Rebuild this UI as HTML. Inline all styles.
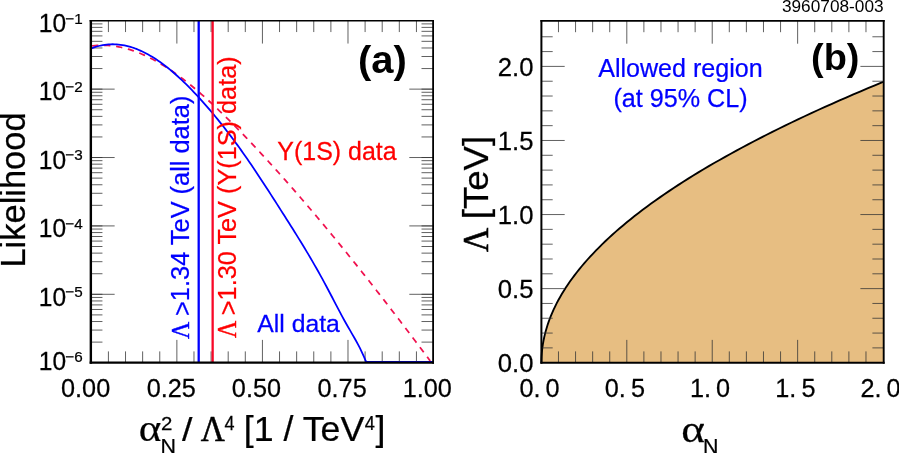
<!DOCTYPE html>
<html><head><meta charset="utf-8"><title>Likelihood and allowed region</title>
<style>
html,body{margin:0;padding:0;background:#fff;font-family:"Liberation Sans",sans-serif;}
body{width:899px;height:453px;overflow:hidden;}
svg{display:block;will-change:transform;}
</style></head><body>
<svg width="899" height="453" viewBox="0 0 899 453" font-family="Liberation Sans, sans-serif">
<path d="M541.40,362.70 L541.44,359.58 L541.57,356.46 L541.78,353.34 L542.07,350.22 L542.45,347.10 L542.92,343.98 L543.47,340.86 L544.10,337.74 L544.82,334.62 L545.62,331.51 L546.50,328.39 L547.47,325.27 L548.53,322.15 L549.67,319.03 L550.89,315.91 L552.20,312.79 L553.59,309.67 L555.07,306.55 L556.63,303.43 L558.27,300.31 L560.00,297.19 L561.81,294.07 L563.71,290.95 L565.70,287.83 L567.76,284.71 L569.91,281.59 L572.15,278.47 L574.47,275.36 L576.87,272.24 L579.36,269.12 L581.93,266.00 L584.59,262.88 L587.33,259.76 L590.16,256.64 L593.07,253.52 L596.06,250.40 L599.14,247.28 L602.31,244.16 L605.55,241.04 L608.89,237.92 L612.30,234.80 L615.80,231.68 L619.39,228.56 L623.06,225.44 L626.81,222.32 L630.65,219.20 L634.57,216.09 L638.58,212.97 L642.67,209.85 L646.85,206.73 L651.11,203.61 L655.45,200.49 L659.88,197.37 L664.39,194.25 L668.99,191.13 L673.67,188.01 L678.44,184.89 L683.29,181.77 L688.23,178.65 L693.24,175.53 L698.35,172.41 L703.54,169.29 L708.81,166.17 L714.17,163.05 L719.61,159.94 L725.13,156.82 L730.74,153.70 L736.44,150.58 L742.21,147.46 L748.08,144.34 L754.02,141.22 L760.06,138.10 L766.17,134.98 L772.37,131.86 L778.66,128.74 L785.03,125.62 L791.48,122.50 L798.02,119.38 L804.64,116.26 L811.35,113.14 L818.14,110.02 L825.01,106.90 L831.97,103.79 L839.02,100.67 L846.14,97.55 L853.36,94.43 L860.65,91.31 L868.03,88.19 L875.50,85.07 L883.05,81.95 L883.70,362.70 L541.40,362.70 Z" fill="#E7BE82"/>
<path d="M541.40,362.70 L541.44,359.58 L541.57,356.46 L541.78,353.34 L542.07,350.22 L542.45,347.10 L542.92,343.98 L543.47,340.86 L544.10,337.74 L544.82,334.62 L545.62,331.51 L546.50,328.39 L547.47,325.27 L548.53,322.15 L549.67,319.03 L550.89,315.91 L552.20,312.79 L553.59,309.67 L555.07,306.55 L556.63,303.43 L558.27,300.31 L560.00,297.19 L561.81,294.07 L563.71,290.95 L565.70,287.83 L567.76,284.71 L569.91,281.59 L572.15,278.47 L574.47,275.36 L576.87,272.24 L579.36,269.12 L581.93,266.00 L584.59,262.88 L587.33,259.76 L590.16,256.64 L593.07,253.52 L596.06,250.40 L599.14,247.28 L602.31,244.16 L605.55,241.04 L608.89,237.92 L612.30,234.80 L615.80,231.68 L619.39,228.56 L623.06,225.44 L626.81,222.32 L630.65,219.20 L634.57,216.09 L638.58,212.97 L642.67,209.85 L646.85,206.73 L651.11,203.61 L655.45,200.49 L659.88,197.37 L664.39,194.25 L668.99,191.13 L673.67,188.01 L678.44,184.89 L683.29,181.77 L688.23,178.65 L693.24,175.53 L698.35,172.41 L703.54,169.29 L708.81,166.17 L714.17,163.05 L719.61,159.94 L725.13,156.82 L730.74,153.70 L736.44,150.58 L742.21,147.46 L748.08,144.34 L754.02,141.22 L760.06,138.10 L766.17,134.98 L772.37,131.86 L778.66,128.74 L785.03,125.62 L791.48,122.50 L798.02,119.38 L804.64,116.26 L811.35,113.14 L818.14,110.02 L825.01,106.90 L831.97,103.79 L839.02,100.67 L846.14,97.55 L853.36,94.43 L860.65,91.31 L868.03,88.19 L875.50,85.07 L883.05,81.95" fill="none" stroke="#000" stroke-width="1.85"/>
<g><line x1="108.41" y1="362.70" x2="108.41" y2="351.40" stroke="#333" stroke-width="0.78" /><line x1="108.41" y1="20.75" x2="108.41" y2="32.05" stroke="#333" stroke-width="0.78" /><line x1="125.53" y1="362.70" x2="125.53" y2="351.40" stroke="#333" stroke-width="0.78" /><line x1="125.53" y1="20.75" x2="125.53" y2="32.05" stroke="#333" stroke-width="0.78" /><line x1="142.64" y1="362.70" x2="142.64" y2="351.40" stroke="#333" stroke-width="0.78" /><line x1="142.64" y1="20.75" x2="142.64" y2="32.05" stroke="#333" stroke-width="0.78" /><line x1="159.75" y1="362.70" x2="159.75" y2="351.40" stroke="#333" stroke-width="0.78" /><line x1="159.75" y1="20.75" x2="159.75" y2="32.05" stroke="#333" stroke-width="0.78" /><line x1="176.86" y1="362.70" x2="176.86" y2="339.90" stroke="#333" stroke-width="0.78" /><line x1="176.86" y1="20.75" x2="176.86" y2="43.55" stroke="#333" stroke-width="0.78" /><line x1="193.97" y1="362.70" x2="193.97" y2="351.40" stroke="#333" stroke-width="0.78" /><line x1="193.97" y1="20.75" x2="193.97" y2="32.05" stroke="#333" stroke-width="0.78" /><line x1="211.09" y1="362.70" x2="211.09" y2="351.40" stroke="#333" stroke-width="0.78" /><line x1="211.09" y1="20.75" x2="211.09" y2="32.05" stroke="#333" stroke-width="0.78" /><line x1="228.20" y1="362.70" x2="228.20" y2="351.40" stroke="#333" stroke-width="0.78" /><line x1="228.20" y1="20.75" x2="228.20" y2="32.05" stroke="#333" stroke-width="0.78" /><line x1="245.31" y1="362.70" x2="245.31" y2="351.40" stroke="#333" stroke-width="0.78" /><line x1="245.31" y1="20.75" x2="245.31" y2="32.05" stroke="#333" stroke-width="0.78" /><line x1="262.43" y1="362.70" x2="262.43" y2="339.90" stroke="#333" stroke-width="0.78" /><line x1="262.43" y1="20.75" x2="262.43" y2="43.55" stroke="#333" stroke-width="0.78" /><line x1="279.54" y1="362.70" x2="279.54" y2="351.40" stroke="#333" stroke-width="0.78" /><line x1="279.54" y1="20.75" x2="279.54" y2="32.05" stroke="#333" stroke-width="0.78" /><line x1="296.65" y1="362.70" x2="296.65" y2="351.40" stroke="#333" stroke-width="0.78" /><line x1="296.65" y1="20.75" x2="296.65" y2="32.05" stroke="#333" stroke-width="0.78" /><line x1="313.76" y1="362.70" x2="313.76" y2="351.40" stroke="#333" stroke-width="0.78" /><line x1="313.76" y1="20.75" x2="313.76" y2="32.05" stroke="#333" stroke-width="0.78" /><line x1="330.88" y1="362.70" x2="330.88" y2="351.40" stroke="#333" stroke-width="0.78" /><line x1="330.88" y1="20.75" x2="330.88" y2="32.05" stroke="#333" stroke-width="0.78" /><line x1="347.99" y1="362.70" x2="347.99" y2="339.90" stroke="#333" stroke-width="0.78" /><line x1="347.99" y1="20.75" x2="347.99" y2="43.55" stroke="#333" stroke-width="0.78" /><line x1="365.10" y1="362.70" x2="365.10" y2="351.40" stroke="#333" stroke-width="0.78" /><line x1="365.10" y1="20.75" x2="365.10" y2="32.05" stroke="#333" stroke-width="0.78" /><line x1="382.21" y1="362.70" x2="382.21" y2="351.40" stroke="#333" stroke-width="0.78" /><line x1="382.21" y1="20.75" x2="382.21" y2="32.05" stroke="#333" stroke-width="0.78" /><line x1="399.32" y1="362.70" x2="399.32" y2="351.40" stroke="#333" stroke-width="0.78" /><line x1="399.32" y1="20.75" x2="399.32" y2="32.05" stroke="#333" stroke-width="0.78" /><line x1="416.44" y1="362.70" x2="416.44" y2="351.40" stroke="#333" stroke-width="0.78" /><line x1="416.44" y1="20.75" x2="416.44" y2="32.05" stroke="#333" stroke-width="0.78" /><line x1="90.85" y1="89.14" x2="102.45" y2="89.14" stroke="#333" stroke-width="0.78" /><line x1="433.10" y1="89.14" x2="421.50" y2="89.14" stroke="#333" stroke-width="0.78" /><line x1="90.85" y1="68.55" x2="102.45" y2="68.55" stroke="#333" stroke-width="0.78" /><line x1="433.10" y1="68.55" x2="421.50" y2="68.55" stroke="#333" stroke-width="0.78" /><line x1="90.85" y1="56.51" x2="102.45" y2="56.51" stroke="#333" stroke-width="0.78" /><line x1="433.10" y1="56.51" x2="421.50" y2="56.51" stroke="#333" stroke-width="0.78" /><line x1="90.85" y1="47.97" x2="102.45" y2="47.97" stroke="#333" stroke-width="0.78" /><line x1="433.10" y1="47.97" x2="421.50" y2="47.97" stroke="#333" stroke-width="0.78" /><line x1="90.85" y1="41.34" x2="102.45" y2="41.34" stroke="#333" stroke-width="0.78" /><line x1="433.10" y1="41.34" x2="421.50" y2="41.34" stroke="#333" stroke-width="0.78" /><line x1="90.85" y1="35.92" x2="102.45" y2="35.92" stroke="#333" stroke-width="0.78" /><line x1="433.10" y1="35.92" x2="421.50" y2="35.92" stroke="#333" stroke-width="0.78" /><line x1="90.85" y1="31.34" x2="102.45" y2="31.34" stroke="#333" stroke-width="0.78" /><line x1="433.10" y1="31.34" x2="421.50" y2="31.34" stroke="#333" stroke-width="0.78" /><line x1="90.85" y1="27.38" x2="102.45" y2="27.38" stroke="#333" stroke-width="0.78" /><line x1="433.10" y1="27.38" x2="421.50" y2="27.38" stroke="#333" stroke-width="0.78" /><line x1="90.85" y1="23.88" x2="102.45" y2="23.88" stroke="#333" stroke-width="0.78" /><line x1="433.10" y1="23.88" x2="421.50" y2="23.88" stroke="#333" stroke-width="0.78" /><line x1="90.85" y1="157.53" x2="102.45" y2="157.53" stroke="#333" stroke-width="0.78" /><line x1="433.10" y1="157.53" x2="421.50" y2="157.53" stroke="#333" stroke-width="0.78" /><line x1="90.85" y1="136.94" x2="102.45" y2="136.94" stroke="#333" stroke-width="0.78" /><line x1="433.10" y1="136.94" x2="421.50" y2="136.94" stroke="#333" stroke-width="0.78" /><line x1="90.85" y1="124.90" x2="102.45" y2="124.90" stroke="#333" stroke-width="0.78" /><line x1="433.10" y1="124.90" x2="421.50" y2="124.90" stroke="#333" stroke-width="0.78" /><line x1="90.85" y1="116.36" x2="102.45" y2="116.36" stroke="#333" stroke-width="0.78" /><line x1="433.10" y1="116.36" x2="421.50" y2="116.36" stroke="#333" stroke-width="0.78" /><line x1="90.85" y1="109.73" x2="102.45" y2="109.73" stroke="#333" stroke-width="0.78" /><line x1="433.10" y1="109.73" x2="421.50" y2="109.73" stroke="#333" stroke-width="0.78" /><line x1="90.85" y1="104.31" x2="102.45" y2="104.31" stroke="#333" stroke-width="0.78" /><line x1="433.10" y1="104.31" x2="421.50" y2="104.31" stroke="#333" stroke-width="0.78" /><line x1="90.85" y1="99.73" x2="102.45" y2="99.73" stroke="#333" stroke-width="0.78" /><line x1="433.10" y1="99.73" x2="421.50" y2="99.73" stroke="#333" stroke-width="0.78" /><line x1="90.85" y1="95.77" x2="102.45" y2="95.77" stroke="#333" stroke-width="0.78" /><line x1="433.10" y1="95.77" x2="421.50" y2="95.77" stroke="#333" stroke-width="0.78" /><line x1="90.85" y1="92.27" x2="102.45" y2="92.27" stroke="#333" stroke-width="0.78" /><line x1="433.10" y1="92.27" x2="421.50" y2="92.27" stroke="#333" stroke-width="0.78" /><line x1="90.85" y1="225.92" x2="102.45" y2="225.92" stroke="#333" stroke-width="0.78" /><line x1="433.10" y1="225.92" x2="421.50" y2="225.92" stroke="#333" stroke-width="0.78" /><line x1="90.85" y1="205.33" x2="102.45" y2="205.33" stroke="#333" stroke-width="0.78" /><line x1="433.10" y1="205.33" x2="421.50" y2="205.33" stroke="#333" stroke-width="0.78" /><line x1="90.85" y1="193.29" x2="102.45" y2="193.29" stroke="#333" stroke-width="0.78" /><line x1="433.10" y1="193.29" x2="421.50" y2="193.29" stroke="#333" stroke-width="0.78" /><line x1="90.85" y1="184.75" x2="102.45" y2="184.75" stroke="#333" stroke-width="0.78" /><line x1="433.10" y1="184.75" x2="421.50" y2="184.75" stroke="#333" stroke-width="0.78" /><line x1="90.85" y1="178.12" x2="102.45" y2="178.12" stroke="#333" stroke-width="0.78" /><line x1="433.10" y1="178.12" x2="421.50" y2="178.12" stroke="#333" stroke-width="0.78" /><line x1="90.85" y1="172.70" x2="102.45" y2="172.70" stroke="#333" stroke-width="0.78" /><line x1="433.10" y1="172.70" x2="421.50" y2="172.70" stroke="#333" stroke-width="0.78" /><line x1="90.85" y1="168.12" x2="102.45" y2="168.12" stroke="#333" stroke-width="0.78" /><line x1="433.10" y1="168.12" x2="421.50" y2="168.12" stroke="#333" stroke-width="0.78" /><line x1="90.85" y1="164.16" x2="102.45" y2="164.16" stroke="#333" stroke-width="0.78" /><line x1="433.10" y1="164.16" x2="421.50" y2="164.16" stroke="#333" stroke-width="0.78" /><line x1="90.85" y1="160.66" x2="102.45" y2="160.66" stroke="#333" stroke-width="0.78" /><line x1="433.10" y1="160.66" x2="421.50" y2="160.66" stroke="#333" stroke-width="0.78" /><line x1="90.85" y1="294.31" x2="102.45" y2="294.31" stroke="#333" stroke-width="0.78" /><line x1="433.10" y1="294.31" x2="421.50" y2="294.31" stroke="#333" stroke-width="0.78" /><line x1="90.85" y1="273.72" x2="102.45" y2="273.72" stroke="#333" stroke-width="0.78" /><line x1="433.10" y1="273.72" x2="421.50" y2="273.72" stroke="#333" stroke-width="0.78" /><line x1="90.85" y1="261.68" x2="102.45" y2="261.68" stroke="#333" stroke-width="0.78" /><line x1="433.10" y1="261.68" x2="421.50" y2="261.68" stroke="#333" stroke-width="0.78" /><line x1="90.85" y1="253.14" x2="102.45" y2="253.14" stroke="#333" stroke-width="0.78" /><line x1="433.10" y1="253.14" x2="421.50" y2="253.14" stroke="#333" stroke-width="0.78" /><line x1="90.85" y1="246.51" x2="102.45" y2="246.51" stroke="#333" stroke-width="0.78" /><line x1="433.10" y1="246.51" x2="421.50" y2="246.51" stroke="#333" stroke-width="0.78" /><line x1="90.85" y1="241.09" x2="102.45" y2="241.09" stroke="#333" stroke-width="0.78" /><line x1="433.10" y1="241.09" x2="421.50" y2="241.09" stroke="#333" stroke-width="0.78" /><line x1="90.85" y1="236.51" x2="102.45" y2="236.51" stroke="#333" stroke-width="0.78" /><line x1="433.10" y1="236.51" x2="421.50" y2="236.51" stroke="#333" stroke-width="0.78" /><line x1="90.85" y1="232.55" x2="102.45" y2="232.55" stroke="#333" stroke-width="0.78" /><line x1="433.10" y1="232.55" x2="421.50" y2="232.55" stroke="#333" stroke-width="0.78" /><line x1="90.85" y1="229.05" x2="102.45" y2="229.05" stroke="#333" stroke-width="0.78" /><line x1="433.10" y1="229.05" x2="421.50" y2="229.05" stroke="#333" stroke-width="0.78" /><line x1="90.85" y1="342.11" x2="102.45" y2="342.11" stroke="#333" stroke-width="0.78" /><line x1="433.10" y1="342.11" x2="421.50" y2="342.11" stroke="#333" stroke-width="0.78" /><line x1="90.85" y1="330.07" x2="102.45" y2="330.07" stroke="#333" stroke-width="0.78" /><line x1="433.10" y1="330.07" x2="421.50" y2="330.07" stroke="#333" stroke-width="0.78" /><line x1="90.85" y1="321.53" x2="102.45" y2="321.53" stroke="#333" stroke-width="0.78" /><line x1="433.10" y1="321.53" x2="421.50" y2="321.53" stroke="#333" stroke-width="0.78" /><line x1="90.85" y1="314.90" x2="102.45" y2="314.90" stroke="#333" stroke-width="0.78" /><line x1="433.10" y1="314.90" x2="421.50" y2="314.90" stroke="#333" stroke-width="0.78" /><line x1="90.85" y1="309.48" x2="102.45" y2="309.48" stroke="#333" stroke-width="0.78" /><line x1="433.10" y1="309.48" x2="421.50" y2="309.48" stroke="#333" stroke-width="0.78" /><line x1="90.85" y1="304.90" x2="102.45" y2="304.90" stroke="#333" stroke-width="0.78" /><line x1="433.10" y1="304.90" x2="421.50" y2="304.90" stroke="#333" stroke-width="0.78" /><line x1="90.85" y1="300.94" x2="102.45" y2="300.94" stroke="#333" stroke-width="0.78" /><line x1="433.10" y1="300.94" x2="421.50" y2="300.94" stroke="#333" stroke-width="0.78" /><line x1="90.85" y1="297.44" x2="102.45" y2="297.44" stroke="#333" stroke-width="0.78" /><line x1="433.10" y1="297.44" x2="421.50" y2="297.44" stroke="#333" stroke-width="0.78" /><line x1="90.85" y1="89.14" x2="114.65" y2="89.14" stroke="#333" stroke-width="0.78" /><line x1="433.10" y1="89.14" x2="409.30" y2="89.14" stroke="#333" stroke-width="0.78" /><line x1="90.85" y1="157.53" x2="114.65" y2="157.53" stroke="#333" stroke-width="0.78" /><line x1="433.10" y1="157.53" x2="409.30" y2="157.53" stroke="#333" stroke-width="0.78" /><line x1="90.85" y1="225.92" x2="114.65" y2="225.92" stroke="#333" stroke-width="0.78" /><line x1="433.10" y1="225.92" x2="409.30" y2="225.92" stroke="#333" stroke-width="0.78" /><line x1="90.85" y1="294.31" x2="114.65" y2="294.31" stroke="#333" stroke-width="0.78" /><line x1="433.10" y1="294.31" x2="409.30" y2="294.31" stroke="#333" stroke-width="0.78" /><line x1="558.48" y1="362.70" x2="558.48" y2="351.40" stroke="#333" stroke-width="0.78" /><line x1="558.48" y1="20.90" x2="558.48" y2="32.20" stroke="#333" stroke-width="0.78" /><line x1="575.56" y1="362.70" x2="575.56" y2="351.40" stroke="#333" stroke-width="0.78" /><line x1="575.56" y1="20.90" x2="575.56" y2="32.20" stroke="#333" stroke-width="0.78" /><line x1="592.65" y1="362.70" x2="592.65" y2="351.40" stroke="#333" stroke-width="0.78" /><line x1="592.65" y1="20.90" x2="592.65" y2="32.20" stroke="#333" stroke-width="0.78" /><line x1="609.73" y1="362.70" x2="609.73" y2="351.40" stroke="#333" stroke-width="0.78" /><line x1="609.73" y1="20.90" x2="609.73" y2="32.20" stroke="#333" stroke-width="0.78" /><line x1="626.81" y1="362.70" x2="626.81" y2="339.90" stroke="#333" stroke-width="0.78" /><line x1="626.81" y1="20.90" x2="626.81" y2="43.70" stroke="#333" stroke-width="0.78" /><line x1="643.89" y1="362.70" x2="643.89" y2="351.40" stroke="#333" stroke-width="0.78" /><line x1="643.89" y1="20.90" x2="643.89" y2="32.20" stroke="#333" stroke-width="0.78" /><line x1="660.98" y1="362.70" x2="660.98" y2="351.40" stroke="#333" stroke-width="0.78" /><line x1="660.98" y1="20.90" x2="660.98" y2="32.20" stroke="#333" stroke-width="0.78" /><line x1="678.06" y1="362.70" x2="678.06" y2="351.40" stroke="#333" stroke-width="0.78" /><line x1="678.06" y1="20.90" x2="678.06" y2="32.20" stroke="#333" stroke-width="0.78" /><line x1="695.14" y1="362.70" x2="695.14" y2="351.40" stroke="#333" stroke-width="0.78" /><line x1="695.14" y1="20.90" x2="695.14" y2="32.20" stroke="#333" stroke-width="0.78" /><line x1="712.22" y1="362.70" x2="712.22" y2="339.90" stroke="#333" stroke-width="0.78" /><line x1="712.22" y1="20.90" x2="712.22" y2="43.70" stroke="#333" stroke-width="0.78" /><line x1="729.31" y1="362.70" x2="729.31" y2="351.40" stroke="#333" stroke-width="0.78" /><line x1="729.31" y1="20.90" x2="729.31" y2="32.20" stroke="#333" stroke-width="0.78" /><line x1="746.39" y1="362.70" x2="746.39" y2="351.40" stroke="#333" stroke-width="0.78" /><line x1="746.39" y1="20.90" x2="746.39" y2="32.20" stroke="#333" stroke-width="0.78" /><line x1="763.47" y1="362.70" x2="763.47" y2="351.40" stroke="#333" stroke-width="0.78" /><line x1="763.47" y1="20.90" x2="763.47" y2="32.20" stroke="#333" stroke-width="0.78" /><line x1="780.55" y1="362.70" x2="780.55" y2="351.40" stroke="#333" stroke-width="0.78" /><line x1="780.55" y1="20.90" x2="780.55" y2="32.20" stroke="#333" stroke-width="0.78" /><line x1="797.64" y1="362.70" x2="797.64" y2="339.90" stroke="#333" stroke-width="0.78" /><line x1="797.64" y1="20.90" x2="797.64" y2="43.70" stroke="#333" stroke-width="0.78" /><line x1="814.72" y1="362.70" x2="814.72" y2="351.40" stroke="#333" stroke-width="0.78" /><line x1="814.72" y1="20.90" x2="814.72" y2="32.20" stroke="#333" stroke-width="0.78" /><line x1="831.80" y1="362.70" x2="831.80" y2="351.40" stroke="#333" stroke-width="0.78" /><line x1="831.80" y1="20.90" x2="831.80" y2="32.20" stroke="#333" stroke-width="0.78" /><line x1="848.88" y1="362.70" x2="848.88" y2="351.40" stroke="#333" stroke-width="0.78" /><line x1="848.88" y1="20.90" x2="848.88" y2="32.20" stroke="#333" stroke-width="0.78" /><line x1="865.97" y1="362.70" x2="865.97" y2="351.40" stroke="#333" stroke-width="0.78" /><line x1="865.97" y1="20.90" x2="865.97" y2="32.20" stroke="#333" stroke-width="0.78" /><line x1="541.40" y1="347.88" x2="552.70" y2="347.88" stroke="#333" stroke-width="0.78" /><line x1="883.70" y1="347.88" x2="872.40" y2="347.88" stroke="#333" stroke-width="0.78" /><line x1="541.40" y1="333.07" x2="552.70" y2="333.07" stroke="#333" stroke-width="0.78" /><line x1="883.70" y1="333.07" x2="872.40" y2="333.07" stroke="#333" stroke-width="0.78" /><line x1="541.40" y1="318.25" x2="552.70" y2="318.25" stroke="#333" stroke-width="0.78" /><line x1="883.70" y1="318.25" x2="872.40" y2="318.25" stroke="#333" stroke-width="0.78" /><line x1="541.40" y1="303.44" x2="552.70" y2="303.44" stroke="#333" stroke-width="0.78" /><line x1="883.70" y1="303.44" x2="872.40" y2="303.44" stroke="#333" stroke-width="0.78" /><line x1="541.40" y1="288.62" x2="564.70" y2="288.62" stroke="#333" stroke-width="0.78" /><line x1="883.70" y1="288.62" x2="860.40" y2="288.62" stroke="#333" stroke-width="0.78" /><line x1="541.40" y1="273.81" x2="552.70" y2="273.81" stroke="#333" stroke-width="0.78" /><line x1="883.70" y1="273.81" x2="872.40" y2="273.81" stroke="#333" stroke-width="0.78" /><line x1="541.40" y1="259.00" x2="552.70" y2="259.00" stroke="#333" stroke-width="0.78" /><line x1="883.70" y1="259.00" x2="872.40" y2="259.00" stroke="#333" stroke-width="0.78" /><line x1="541.40" y1="244.18" x2="552.70" y2="244.18" stroke="#333" stroke-width="0.78" /><line x1="883.70" y1="244.18" x2="872.40" y2="244.18" stroke="#333" stroke-width="0.78" /><line x1="541.40" y1="229.37" x2="552.70" y2="229.37" stroke="#333" stroke-width="0.78" /><line x1="883.70" y1="229.37" x2="872.40" y2="229.37" stroke="#333" stroke-width="0.78" /><line x1="541.40" y1="214.55" x2="564.70" y2="214.55" stroke="#333" stroke-width="0.78" /><line x1="883.70" y1="214.55" x2="860.40" y2="214.55" stroke="#333" stroke-width="0.78" /><line x1="541.40" y1="199.74" x2="552.70" y2="199.74" stroke="#333" stroke-width="0.78" /><line x1="883.70" y1="199.74" x2="872.40" y2="199.74" stroke="#333" stroke-width="0.78" /><line x1="541.40" y1="184.92" x2="552.70" y2="184.92" stroke="#333" stroke-width="0.78" /><line x1="883.70" y1="184.92" x2="872.40" y2="184.92" stroke="#333" stroke-width="0.78" /><line x1="541.40" y1="170.11" x2="552.70" y2="170.11" stroke="#333" stroke-width="0.78" /><line x1="883.70" y1="170.11" x2="872.40" y2="170.11" stroke="#333" stroke-width="0.78" /><line x1="541.40" y1="155.29" x2="552.70" y2="155.29" stroke="#333" stroke-width="0.78" /><line x1="883.70" y1="155.29" x2="872.40" y2="155.29" stroke="#333" stroke-width="0.78" /><line x1="541.40" y1="140.48" x2="564.70" y2="140.48" stroke="#333" stroke-width="0.78" /><line x1="883.70" y1="140.48" x2="860.40" y2="140.48" stroke="#333" stroke-width="0.78" /><line x1="541.40" y1="125.66" x2="552.70" y2="125.66" stroke="#333" stroke-width="0.78" /><line x1="883.70" y1="125.66" x2="872.40" y2="125.66" stroke="#333" stroke-width="0.78" /><line x1="541.40" y1="110.85" x2="552.70" y2="110.85" stroke="#333" stroke-width="0.78" /><line x1="883.70" y1="110.85" x2="872.40" y2="110.85" stroke="#333" stroke-width="0.78" /><line x1="541.40" y1="96.03" x2="552.70" y2="96.03" stroke="#333" stroke-width="0.78" /><line x1="883.70" y1="96.03" x2="872.40" y2="96.03" stroke="#333" stroke-width="0.78" /><line x1="541.40" y1="81.22" x2="552.70" y2="81.22" stroke="#333" stroke-width="0.78" /><line x1="883.70" y1="81.22" x2="872.40" y2="81.22" stroke="#333" stroke-width="0.78" /><line x1="541.40" y1="66.40" x2="564.70" y2="66.40" stroke="#333" stroke-width="0.78" /><line x1="883.70" y1="66.40" x2="860.40" y2="66.40" stroke="#333" stroke-width="0.78" /><line x1="541.40" y1="51.59" x2="552.70" y2="51.59" stroke="#333" stroke-width="0.78" /><line x1="883.70" y1="51.59" x2="872.40" y2="51.59" stroke="#333" stroke-width="0.78" /><line x1="541.40" y1="36.77" x2="552.70" y2="36.77" stroke="#333" stroke-width="0.78" /><line x1="883.70" y1="36.77" x2="872.40" y2="36.77" stroke="#333" stroke-width="0.78" /></g>
<path d="M90.85,46.11 L92.98,45.82 L95.12,45.60 L97.25,45.43 L99.39,45.32 L101.52,45.27 L103.66,45.27 L105.79,45.33 L107.92,45.44 L110.06,45.61 L112.19,45.84 L114.33,46.11 L116.46,46.44 L118.60,46.82 L120.73,47.25 L122.86,47.73 L125.00,48.26 L127.13,48.84 L129.27,49.46 L131.40,50.14 L133.54,50.86 L135.67,51.63 L137.80,52.44 L139.94,53.30 L142.07,54.20 L144.21,55.14 L146.34,56.13 L148.48,57.16 L150.61,58.23 L152.74,59.35 L154.88,60.50 L157.01,61.69 L159.15,62.92 L161.28,64.19 L163.42,65.49 L165.55,66.83 L167.68,68.21 L169.82,69.62 L171.95,71.07 L174.09,72.55 L176.22,74.07 L178.36,75.61 L180.49,77.19 L182.62,78.80 L184.76,80.44 L186.89,82.11 L189.03,83.81 L191.16,85.54 L193.30,87.29 L195.43,89.07 L197.56,90.88 L199.70,92.72 L201.83,94.58 L203.97,96.46 L206.10,98.37 L208.24,100.29 L210.37,102.25 L212.50,104.22 L214.64,106.21 L216.77,108.23 L218.91,110.26 L221.04,112.32 L223.18,114.39 L225.31,116.48 L227.44,118.58 L229.58,120.70 L231.71,122.84 L233.85,124.99 L235.98,127.16 L238.12,129.34 L240.25,131.53 L242.38,133.73 L244.52,135.94 L246.65,138.17 L248.79,140.41 L250.92,142.65 L253.06,144.91 L255.19,147.18 L257.32,149.45 L259.46,151.74 L261.59,154.04 L263.73,156.34 L265.86,158.66 L267.99,160.99 L270.13,163.32 L272.26,165.67 L274.40,168.02 L276.53,170.39 L278.67,172.76 L280.80,175.15 L282.93,177.54 L285.07,179.94 L287.20,182.35 L289.34,184.77 L291.47,187.20 L293.61,189.64 L295.74,192.09 L297.87,194.54 L300.01,197.01 L302.14,199.48 L304.28,201.96 L306.41,204.45 L308.55,206.95 L310.68,209.46 L312.81,211.97 L314.95,214.50 L317.08,217.03 L319.22,219.57 L321.35,222.11 L323.49,224.67 L325.62,227.23 L327.75,229.80 L329.89,232.38 L332.02,234.97 L334.16,237.56 L336.29,240.16 L338.43,242.77 L340.56,245.39 L342.69,248.01 L344.83,250.64 L346.96,253.28 L349.10,255.93 L351.23,258.58 L353.37,261.24 L355.50,263.90 L357.63,266.57 L359.77,269.25 L361.90,271.94 L364.04,274.63 L366.17,277.33 L368.31,280.03 L370.44,282.75 L372.57,285.46 L374.71,288.19 L376.84,290.92 L378.98,293.65 L381.11,296.40 L383.25,299.14 L385.38,301.90 L387.51,304.66 L389.65,307.42 L391.78,310.19 L393.92,312.97 L396.05,315.75 L398.19,318.54 L400.32,321.33 L402.45,324.13 L404.59,326.93 L406.72,329.74 L408.86,332.56 L410.99,335.37 L413.13,338.20 L415.26,341.03 L417.39,343.86 L419.53,346.70 L421.66,349.54 L423.80,352.39 L425.93,355.24 L428.07,358.09 L430.20,360.95" fill="none" stroke="#F0104E" stroke-width="1.75" stroke-dasharray="6.3 5.75" stroke-dashoffset="10.78"/>
<path d="M90.85,48.63 L92.83,47.85 L94.81,47.15 L96.79,46.53 L98.77,45.99 L100.74,45.52 L102.72,45.12 L104.70,44.80 L106.68,44.55 L108.66,44.38 L110.64,44.27 L112.62,44.23 L114.60,44.27 L116.57,44.37 L118.55,44.54 L120.53,44.77 L122.51,45.07 L124.49,45.44 L126.47,45.87 L128.45,46.36 L130.43,46.91 L132.40,47.53 L134.38,48.20 L136.36,48.94 L138.34,49.73 L140.32,50.58 L142.30,51.49 L144.28,52.45 L146.26,53.47 L148.23,54.54 L150.21,55.67 L152.19,56.85 L154.17,58.07 L156.15,59.35 L158.13,60.68 L160.11,62.06 L162.09,63.48 L164.06,64.95 L166.04,66.47 L168.02,68.03 L170.00,69.64 L171.98,71.29 L173.96,72.98 L175.94,74.72 L177.92,76.49 L179.89,78.31 L181.87,80.16 L183.85,82.05 L185.83,83.98 L187.81,85.94 L189.79,87.94 L191.77,89.97 L193.75,92.04 L195.73,94.14 L197.70,96.27 L199.68,98.43 L201.66,100.63 L203.64,102.85 L205.62,105.09 L207.60,107.37 L209.58,109.68 L211.56,112.01 L213.53,114.37 L215.51,116.75 L217.49,119.17 L219.47,121.61 L221.45,124.08 L223.43,126.58 L225.41,129.11 L227.39,131.67 L229.36,134.25 L231.34,136.87 L233.32,139.51 L235.30,142.18 L237.28,144.88 L239.26,147.61 L241.24,150.37 L243.22,153.16 L245.19,155.97 L247.17,158.82 L249.15,161.69 L251.13,164.59 L253.11,167.51 L255.09,170.45 L257.07,173.42 L259.05,176.40 L261.02,179.40 L263.00,182.42 L264.98,185.46 L266.96,188.51 L268.94,191.57 L270.92,194.64 L272.90,197.72 L274.88,200.80 L276.86,203.90 L278.83,207.00 L280.81,210.10 L282.79,213.20 L284.77,216.31 L286.75,219.42 L288.73,222.55 L290.71,225.68 L292.69,228.82 L294.66,231.98 L296.64,235.15 L298.62,238.35 L300.60,241.56 L302.58,244.80 L304.56,248.06 L306.54,251.35 L308.52,254.67 L310.49,258.02 L312.47,261.40 L314.45,264.82 L316.43,268.28 L318.41,271.78 L320.39,275.33 L322.37,278.92 L324.35,282.55 L326.32,286.23 L328.30,289.97 L330.28,293.73 L332.26,297.52 L334.24,301.32 L336.22,305.11 L338.20,308.89 L340.18,312.63 L342.15,316.33 L344.13,319.97 L346.11,323.53 L348.09,327.02 L350.07,330.43 L352.05,333.82 L354.03,337.24 L356.01,340.74 L357.98,344.38 L359.96,348.20 L361.94,352.27 L363.92,356.61 L365.90,361.31 L366.2,361.75 L433.1,361.75" fill="none" stroke="#0000FF" stroke-width="1.75" stroke-linejoin="round"/>
<line x1="198.70" y1="20.75" x2="198.70" y2="362.70" stroke="#0000FF" stroke-width="2.3" />
<line x1="212.65" y1="20.75" x2="212.65" y2="362.70" stroke="#F80828" stroke-width="2.3" />
<line x1="89.65" y1="20.75" x2="434.00" y2="20.75" stroke="#000" stroke-width="1.7" /><line x1="433.10" y1="19.90" x2="433.10" y2="363.80" stroke="#000" stroke-width="1.8" /><line x1="89.65" y1="362.70" x2="434.00" y2="362.70" stroke="#000" stroke-width="2.2" /><line x1="90.85" y1="19.90" x2="90.85" y2="363.80" stroke="#000" stroke-width="2.4" />
<line x1="540.40" y1="20.90" x2="884.65" y2="20.90" stroke="#000" stroke-width="1.9" /><line x1="883.70" y1="19.95" x2="883.70" y2="363.75" stroke="#000" stroke-width="1.9" /><line x1="540.40" y1="362.70" x2="884.65" y2="362.70" stroke="#000" stroke-width="2.1" /><line x1="541.40" y1="19.95" x2="541.40" y2="363.75" stroke="#000" stroke-width="2.0" />
<text stroke="#000" stroke-width="0.25" transform="translate(38.74 32.04) scale(0.9523 1)" font-family="Liberation Sans" font-size="25.77" fill="#000">10</text>
<text stroke="#000" stroke-width="0.25" transform="translate(65.24 23.70) scale(1.0110 1)" font-family="Liberation Sans" font-size="15.07" fill="#000">−1</text>
<text stroke="#000" stroke-width="0.25" transform="translate(38.74 100.43) scale(0.9523 1)" font-family="Liberation Sans" font-size="25.77" fill="#000">10</text>
<text stroke="#000" stroke-width="0.25" transform="translate(65.24 92.09) scale(1.0110 1)" font-family="Liberation Sans" font-size="15.07" fill="#000">−2</text>
<text stroke="#000" stroke-width="0.25" transform="translate(38.74 168.82) scale(0.9523 1)" font-family="Liberation Sans" font-size="25.77" fill="#000">10</text>
<text stroke="#000" stroke-width="0.25" transform="translate(65.24 160.48) scale(1.0110 1)" font-family="Liberation Sans" font-size="15.07" fill="#000">−3</text>
<text stroke="#000" stroke-width="0.25" transform="translate(38.74 237.21) scale(0.9523 1)" font-family="Liberation Sans" font-size="25.77" fill="#000">10</text>
<text stroke="#000" stroke-width="0.25" transform="translate(65.24 228.87) scale(1.0110 1)" font-family="Liberation Sans" font-size="15.07" fill="#000">−4</text>
<text stroke="#000" stroke-width="0.25" transform="translate(38.74 305.60) scale(0.9523 1)" font-family="Liberation Sans" font-size="25.77" fill="#000">10</text>
<text stroke="#000" stroke-width="0.25" transform="translate(65.24 297.26) scale(1.0110 1)" font-family="Liberation Sans" font-size="15.07" fill="#000">−5</text>
<text stroke="#000" stroke-width="0.25" transform="translate(38.74 370.19) scale(0.9523 1)" font-family="Liberation Sans" font-size="25.77" fill="#000">10</text>
<text stroke="#000" stroke-width="0.25" transform="translate(65.24 361.85) scale(1.0110 1)" font-family="Liberation Sans" font-size="15.07" fill="#000">−6</text>
<text stroke="#000" stroke-width="0.25" transform="translate(60.99 396.74) scale(0.9814 1)" font-family="Liberation Sans" font-size="25.77" fill="#000">0.00</text>
<text stroke="#000" stroke-width="0.25" transform="translate(146.67 396.74) scale(0.9814 1)" font-family="Liberation Sans" font-size="25.77" fill="#000">0.25</text>
<text stroke="#000" stroke-width="0.25" transform="translate(231.85 396.74) scale(0.9814 1)" font-family="Liberation Sans" font-size="25.77" fill="#000">0.50</text>
<text stroke="#000" stroke-width="0.25" transform="translate(317.53 396.74) scale(0.9814 1)" font-family="Liberation Sans" font-size="25.77" fill="#000">0.75</text>
<text stroke="#000" stroke-width="0.25" transform="translate(402.71 396.74) scale(0.9814 1)" font-family="Liberation Sans" font-size="25.77" fill="#000">1.00</text>
<text stroke="#000" stroke-width="0.25" transform="translate(519.48 396.74) scale(0.9814 1)" font-family="Liberation Sans" font-size="25.77" fill="#000">0.</text>
<text stroke="#000" stroke-width="0.25" transform="translate(545.55 396.74) scale(0.9814 1)" font-family="Liberation Sans" font-size="25.77" fill="#000">0</text>
<text stroke="#000" stroke-width="0.25" transform="translate(604.71 396.74) scale(0.9814 1)" font-family="Liberation Sans" font-size="25.77" fill="#000">0.</text>
<text stroke="#000" stroke-width="0.25" transform="translate(631.03 396.74) scale(0.9814 1)" font-family="Liberation Sans" font-size="25.77" fill="#000">5</text>
<text stroke="#000" stroke-width="0.25" transform="translate(689.94 396.74) scale(0.9814 1)" font-family="Liberation Sans" font-size="25.77" fill="#000">1.</text>
<text stroke="#000" stroke-width="0.25" transform="translate(716.01 396.74) scale(0.9814 1)" font-family="Liberation Sans" font-size="25.77" fill="#000">0</text>
<text stroke="#000" stroke-width="0.25" transform="translate(775.17 396.74) scale(0.9814 1)" font-family="Liberation Sans" font-size="25.77" fill="#000">1.</text>
<text stroke="#000" stroke-width="0.25" transform="translate(801.49 396.74) scale(0.9814 1)" font-family="Liberation Sans" font-size="25.77" fill="#000">5</text>
<text stroke="#000" stroke-width="0.25" transform="translate(860.40 396.74) scale(0.9814 1)" font-family="Liberation Sans" font-size="25.77" fill="#000">2.</text>
<text stroke="#000" stroke-width="0.25" transform="translate(886.47 396.74) scale(0.9814 1)" font-family="Liberation Sans" font-size="25.77" fill="#000">0</text>
<text stroke="#000" stroke-width="0.25" transform="translate(497.82 76.14) scale(1.0023 1)" font-family="Liberation Sans" font-size="25.63" fill="#000">2.0</text>
<text stroke="#000" stroke-width="0.25" transform="translate(497.82 150.22) scale(1.0023 1)" font-family="Liberation Sans" font-size="25.63" fill="#000">1.5</text>
<text stroke="#000" stroke-width="0.25" transform="translate(497.82 224.29) scale(1.0023 1)" font-family="Liberation Sans" font-size="25.63" fill="#000">1.0</text>
<text stroke="#000" stroke-width="0.25" transform="translate(497.82 298.37) scale(1.0023 1)" font-family="Liberation Sans" font-size="25.63" fill="#000">0.5</text>
<text stroke="#000" stroke-width="0.25" transform="translate(497.82 372.44) scale(1.0023 1)" font-family="Liberation Sans" font-size="25.63" fill="#000">0.0</text>
<text transform="translate(24.80 267.56) rotate(-90) scale(0.9992 1)" font-family="Liberation Sans" font-size="34.50" fill="#000" stroke="#000" stroke-width="0.25">Likelihood</text>
<text stroke="#000" stroke-width="0.6" transform="translate(488.30 252.03) rotate(-90) scale(0.9193 1)" font-family="Liberation Serif" font-size="36.36" fill="#000">Λ</text>
<text transform="translate(488.20 219.26) rotate(-90) scale(1.0558 1)" font-family="Liberation Sans" font-size="34.70" fill="#000" stroke="#000" stroke-width="0.25">[TeV]</text>
<text stroke="#000" stroke-width="0.25" transform="translate(138.78 441.13) scale(1.1542 1)" font-family="Liberation Serif" font-size="37.29" fill="#000">α</text>
<text stroke="#000" stroke-width="0.25" transform="translate(160.88 429.50) scale(1.1003 1)" font-family="Liberation Sans" font-size="18.57" fill="#000">2</text>
<text stroke="#000" stroke-width="0.25" transform="translate(160.39 452.70) scale(1.0268 1)" font-family="Liberation Sans" font-size="20.87" fill="#000">N</text>
<text stroke="#000" stroke-width="0.25" transform="translate(182.00 440.90) scale(1.1083 1)" font-family="Liberation Sans" font-size="33.84" fill="#000">/</text>
<text transform="translate(200.77 440.90) scale(0.9309 1)" font-family="Liberation Serif" font-size="35.76" fill="#000" stroke="#000" stroke-width="0.5">Λ</text>
<text stroke="#000" stroke-width="0.25" transform="translate(224.54 429.70) scale(0.9223 1)" font-family="Liberation Sans" font-size="19.56" fill="#000">4</text>
<text transform="translate(243.80 440.90) scale(1.0386 1)" font-family="Liberation Sans" font-size="34.40" fill="#000" stroke="#000" stroke-width="0.25">[1 / TeV</text>
<text stroke="#000" stroke-width="0.25" transform="translate(364.74 429.70) scale(0.9323 1)" font-family="Liberation Sans" font-size="19.56" fill="#000">4</text>
<text stroke="#000" stroke-width="0.25" transform="translate(375.44 440.90) scale(1.0386 1)" font-family="Liberation Sans" font-size="34.40" fill="#000">]</text>
<text stroke="#000" stroke-width="0.25" transform="translate(681.20 441.63) scale(1.2203 1)" font-family="Liberation Serif" font-size="36.87" fill="#000">α</text>
<text stroke="#000" stroke-width="0.25" transform="translate(702.99 453.50) scale(0.9857 1)" font-family="Liberation Sans" font-size="21.74" fill="#000">N</text>
<text transform="translate(357.90 72.91) scale(1.0387 1)" font-family="Liberation Sans" font-weight="bold" font-size="38.51" fill="#000">(a)</text>
<text transform="translate(811.00 70.45) scale(1.0285 1)" font-family="Liberation Sans" font-weight="bold" font-size="36.91" fill="#000">(b)</text>
<text transform="translate(277.35 160.40) scale(0.9948 1)" font-family="Liberation Sans" font-size="25.10" fill="#FF0000" stroke="#FF0000" stroke-width="0.25">Y(1S) data</text>
<text transform="translate(257.30 331.70) scale(0.9984 1)" font-family="Liberation Sans" font-size="24.80" fill="#0000FF" stroke="#0000FF" stroke-width="0.25">All data</text>
<text transform="translate(598.20 76.95) scale(0.9954 1)" font-family="Liberation Sans" font-size="25.20" fill="#0000FF" stroke="#0000FF" stroke-width="0.25">Allowed region</text>
<text transform="translate(613.49 107.00) scale(1.0098 1)" font-family="Liberation Sans" font-size="24.90" fill="#0000FF" stroke="#0000FF" stroke-width="0.25">(at 95% CL)</text>
<text transform="translate(781.91 12.23) scale(1.0300 1)" font-family="Liberation Sans" font-size="16.76" fill="#000">3960708-003</text>
<text stroke="#0000FF" stroke-width="0.45" transform="translate(189.30 338.94) rotate(-90) scale(0.9102 1)" font-family="Liberation Serif" font-size="26.21" fill="#0000FF">Λ</text>
<text transform="translate(189.30 315.97) rotate(-90) scale(1.0152 1)" font-family="Liberation Sans" font-size="25.00" fill="#0000FF" stroke="#0000FF" stroke-width="0.25"><tspan dy="0.07em">&gt;</tspan><tspan dy="-0.07em">1.34 TeV (all data)</tspan></text>
<text stroke="#FF0000" stroke-width="0.45" transform="translate(235.70 337.94) rotate(-90) scale(0.8896 1)" font-family="Liberation Serif" font-size="26.82" fill="#FF0000">Λ</text>
<text transform="translate(235.70 315.16) rotate(-90) scale(1.0036 1)" font-family="Liberation Sans" font-size="25.20" fill="#FF0000" stroke="#FF0000" stroke-width="0.25"><tspan dy="0.07em">&gt;</tspan><tspan dy="-0.07em">1.30 TeV (Y(1S) data)</tspan></text>
</svg>
</body></html>
